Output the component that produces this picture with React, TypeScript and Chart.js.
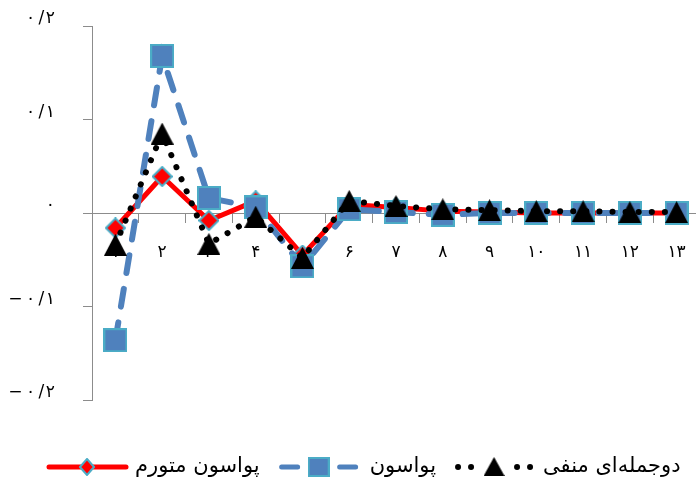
import { useEffect, useRef } from 'react';
import { Chart, registerables } from 'chart.js';

Chart.register(...registerables);

// ---- data ----
const categories = ['۱', '۲', '۳', '۴', '۵', '۶', '۷', '۸', '۹', '۱۰', '۱۱', '۱۲', '۱۳'];
const inflatedPoisson = [-0.016, 0.039, -0.008, 0.013, -0.045, 0.009, 0.006, 0.002, 0.001, 0, 0, 0, 0];
const poisson = [-0.136, 0.168, 0.016, 0.006, -0.057, 0.004, 0.001, -0.002, 0, 0, 0, 0, 0];
const negBinomial = [-0.034, 0.085, -0.033, -0.004, -0.048, 0.013, 0.0075, 0.004, 0.003, 0.002, 0.002, 0.001, 0.001];
const seriesNames = ['پواسون متورم', 'پواسون', 'دوجمله‌ای منفی'];
const yTickValues = [-0.2, -0.1, 0, 0.1, 0.2];
const yTickLabels = ['−\u2009۰\u2009/\u200A۲', '−\u2009۰\u2009/\u200A۱', '۰', '۰\u2009/\u200A۱', '۰\u2009/\u200A۲'];

const FONT = '"DejaVu Sans", sans-serif';
const AXIS_GRAY = '#8c8c8c';
const RED = '#FF0000';
const BLUE = '#4F81BD';
const TEAL = '#4BACC6';

type Kind = 'diamond' | 'square' | 'triangle';

function markerCanvas(kind: Kind, w: number, h: number): HTMLCanvasElement {
  const c = document.createElement('canvas');
  c.width = w;
  c.height = h;
  const ctx = c.getContext('2d')!;
  if (kind === 'square') {
    ctx.fillStyle = TEAL;
    ctx.fillRect(0, 0, w, h);
    ctx.fillStyle = BLUE;
    ctx.fillRect(2, 2, w - 4, h - 4);
  } else if (kind === 'diamond') {
    ctx.beginPath();
    ctx.moveTo(w / 2, 1);
    ctx.lineTo(w - 1, h / 2);
    ctx.lineTo(w / 2, h - 1);
    ctx.lineTo(1, h / 2);
    ctx.closePath();
    ctx.fillStyle = RED;
    ctx.fill();
    ctx.lineWidth = 2;
    ctx.strokeStyle = TEAL;
    ctx.stroke();
  } else {
    ctx.beginPath();
    ctx.moveTo(w / 2, 0);
    ctx.lineTo(w, h);
    ctx.lineTo(0, h);
    ctx.closePath();
    ctx.fillStyle = '#000';
    ctx.fill();
  }
  return c;
}

export default function App() {
  const ref = useRef<HTMLCanvasElement | null>(null);

  useEffect(() => {
    if (!ref.current) return;
    const diamond = markerCanvas('diamond', 21, 21);
    const square = markerCanvas('square', 24, 24);
    const triangle = markerCanvas('triangle', 23, 22);
    const lgDiamond = markerCanvas('diamond', 16, 18);
    const lgSquare = markerCanvas('square', 22, 20);
    const lgTriangle = markerCanvas('triangle', 21, 19);

    const legendPlugin = {
      id: 'excelLegend',
      afterDraw(chart: any) {
        const ctx: CanvasRenderingContext2D = chart.ctx;
        ctx.save();
        const y = 467;
        ctx.font = `21px ${FONT}`;
        ctx.textBaseline = 'middle';
        ctx.textAlign = 'left';
        ctx.fillStyle = '#000';
        let x = 47;
        // red item
        ctx.lineCap = 'round';
        ctx.strokeStyle = RED;
        ctx.lineWidth = 5;
        ctx.beginPath();
        ctx.moveTo(x + 2, y);
        ctx.lineTo(x + 79, y);
        ctx.stroke();
        ctx.drawImage(lgDiamond, x + 40 - 8, y - 9);
        x += 81 + 7;
        ctx.fillText(seriesNames[0], x, y);
        x += ctx.measureText(seriesNames[0]).width + 20;
        // blue item
        ctx.strokeStyle = BLUE;
        ctx.lineWidth = 5;
        ctx.beginPath();
        ctx.moveTo(x + 2, y);
        ctx.lineTo(x + 18, y);
        ctx.moveTo(x + 60, y);
        ctx.lineTo(x + 76, y);
        ctx.stroke();
        ctx.drawImage(lgSquare, x + 39 - 11, y - 10);
        x += 78 + 12;
        ctx.fillText(seriesNames[1], x, y);
        x += ctx.measureText(seriesNames[1]).width + 19;
        // black item
        ctx.fillStyle = '#000';
        [3, 16, 62, 75].forEach((dx) => {
          ctx.beginPath();
          ctx.arc(x + dx, y, 3, 0, Math.PI * 2);
          ctx.fill();
        });
        ctx.drawImage(lgTriangle, x + 39 - 10.5, y - 10);
        x += 78 + 10;
        ctx.fillText(seriesNames[2], x, y);
        ctx.restore();
      },
    };

    const chart = new Chart(ref.current, {
      type: 'line',
      data: {
        labels: categories,
        datasets: [
          {
            label: seriesNames[0],
            data: inflatedPoisson,
            borderColor: RED,
            backgroundColor: RED,
            borderWidth: 5,
            borderJoinStyle: 'round',
            borderCapStyle: 'round',
            pointStyle: diamond as any,
            pointRadius: 10,
            tension: 0,
            order: 2,
          },
          {
            label: seriesNames[1],
            data: poisson,
            borderColor: BLUE,
            backgroundColor: BLUE,
            borderWidth: 6,
            borderDash: [18, 16],
            borderCapStyle: 'round',
            pointStyle: square as any,
            pointRadius: 12,
            tension: 0,
            order: 1,
          },
          {
            label: seriesNames[2],
            data: negBinomial,
            borderColor: '#000',
            backgroundColor: '#000',
            borderWidth: 6,
            borderDash: [0.1, 13],
            borderCapStyle: 'round',
            pointStyle: triangle as any,
            pointRadius: 12,
            tension: 0,
            order: 0,
          },
        ],
      },
      options: {
        animation: false,
        responsive: true,
        maintainAspectRatio: false,
        layout: { padding: { left: 0, top: 26, right: 20, bottom: 87 } },
        plugins: {
          legend: { display: false },
          tooltip: { enabled: false },
        },
        scales: {
          x: {
            type: 'category',
            position: { y: 0 } as any,
            offset: true,
            grid: {
              drawOnChartArea: false,
              drawTicks: true,
              tickLength: 9,
              color: AXIS_GRAY,
              offset: true,
            },
            border: { color: AXIS_GRAY, width: 1 },
            ticks: {
              color: '#000',
              font: { family: FONT, size: 17 },
              padding: 20,
              autoSkip: false,
              maxRotation: 0,
            },
          },
          y: {
            min: -0.2,
            max: 0.2,
            afterBuildTicks: (s: any) => {
              s.ticks = yTickValues.map((v) => ({ value: v }));
            },
            afterFit: (s: any) => {
              s.width = 92;
              s.paddingTop = 0;
              s.paddingBottom = 0;
            },
            grid: {
              drawOnChartArea: false,
              drawTicks: true,
              tickLength: 9,
              color: AXIS_GRAY,
            },
            border: { color: AXIS_GRAY, width: 1 },
            ticks: {
              color: '#000',
              font: { family: FONT, size: 17 },
              padding: 28,
              labelOffset: -7,
              callback: (_v: any, i: number) => yTickLabels[i],
            },
          },
        },
      },
      plugins: [legendPlugin],
    });
    return () => chart.destroy();
  }, []);

  return (
    <div
      style={{
        position: 'fixed',
        left: 0,
        top: 0,
        width: 696,
        height: 487,
        overflow: 'hidden',
        background: '#fff',
      }}
    >
      <div style={{ position: 'relative', width: 720, height: 487 }}>
        <canvas ref={ref} />
      </div>
    </div>
  );
}
